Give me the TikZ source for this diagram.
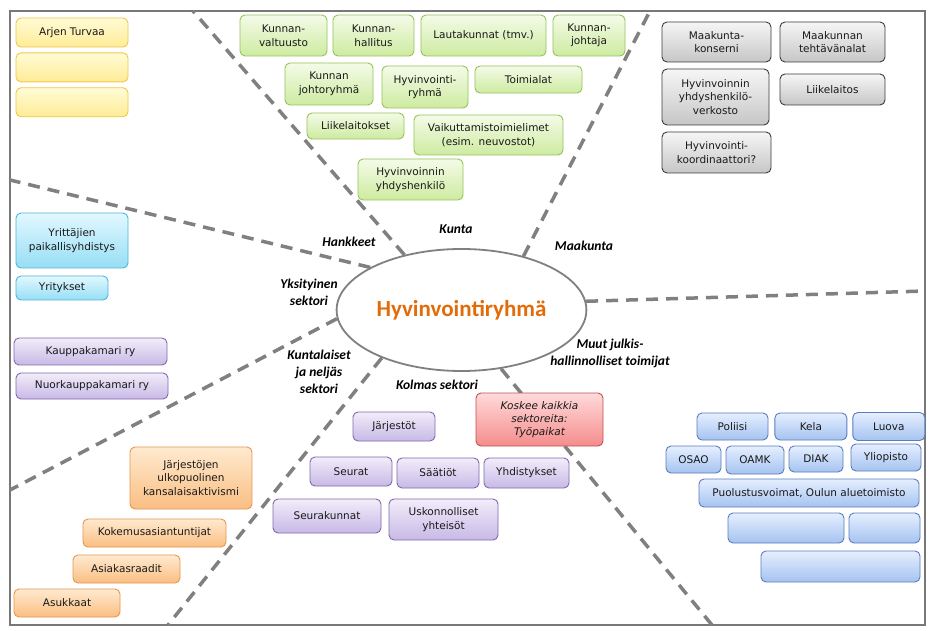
\documentclass[tikz,border=0pt]{standalone}
\usepackage{fontspec}
\newfontfamily\boxfont{DejaVu Sans}
\newfontfamily\labelfont{Carlito}
\usepackage{tikz}
\usetikzlibrary{
	positioning,
	shapes.geometric
}

\definecolor{keltY}{RGB}{255,251,214}
\definecolor{keltA}{RGB}{255,236,150}
\definecolor{keltR}{RGB}{240,200,70}
\definecolor{vihrY}{RGB}{244,251,232}
\definecolor{vihrA}{RGB}{205,235,160}
\definecolor{vihrR}{RGB}{150,195,90}
\definecolor{harmY}{RGB}{246,246,246}
\definecolor{harmA}{RGB}{198,198,198}
\definecolor{harmR}{RGB}{60,60,60}
\definecolor{syanY}{RGB}{226,248,255}
\definecolor{syanA}{RGB}{150,222,245}
\definecolor{syanR}{RGB}{80,180,215}
\definecolor{violY}{RGB}{242,237,250}
\definecolor{violA}{RGB}{200,185,230}
\definecolor{violR}{RGB}{130,105,175}
\definecolor{orY}{RGB}{255,234,208}
\definecolor{orA}{RGB}{250,190,130}
\definecolor{orR}{RGB}{230,150,80}
\definecolor{punY}{RGB}{255,218,218}
\definecolor{punA}{RGB}{245,140,140}
\definecolor{punR}{RGB}{190,80,80}
\definecolor{sinY}{RGB}{230,239,255}
\definecolor{sinA}{RGB}{165,195,240}
\definecolor{sinR}{RGB}{90,125,190}
\definecolor{rajaC}{RGB}{128,128,128}
\definecolor{kehys}{RGB}{120,120,120}
\definecolor{otsikko}{RGB}{227,108,10}

\begin{document}
\begin{tikzpicture}[
			x=1pt, y=-1pt,
			kasti/.style={draw, rounded corners=5pt, align=center, inner sep=2pt, line width=0.9pt,
				font=\boxfont\fontsize{10.5}{13.5}\selectfont, text=black!90},
			keltainen/.style={kasti, draw=keltR, top color=keltY, bottom color=keltA},
			vihrea/.style={kasti, draw=vihrR, top color=vihrY, bottom color=vihrA},
			harmaa/.style={kasti, draw=harmR, top color=harmY, bottom color=harmA},
			syaani/.style={kasti, draw=syanR, top color=syanY, bottom color=syanA},
			violetti/.style={kasti, draw=violR, top color=violY, bottom color=violA},
			oranssi/.style={kasti, draw=orR, top color=orY, bottom color=orA},
			punainen/.style={kasti, draw=punR, top color=punY, bottom color=punA},
			sininen/.style={kasti, draw=sinR, top color=sinY, bottom color=sinA},
			sektori/.style={font=\labelfont\bfseries\itshape\fontsize{13.5}{17}\selectfont, align=center},
			raja/.style={draw=rajaC, line width=3.5pt, dash pattern=on 12pt off 8pt}
		]

		\useasboundingbox (0,0) rectangle (938,631);
		\fill[white] (0,0) rectangle (938,631);
		\draw[kehys, line width=2.5pt] (10,11) rectangle (925,625);

		% keskus
		\node[draw=rajaC, line width=1.8pt, ellipse, fill=white, minimum width=245pt, minimum height=122pt,
			font=\labelfont\bfseries\fontsize{23}{26}\selectfont, text=otsikko] (hub) at (461.5,310) {Hyvinvointiryhmä};

		% sektorien rajat
		\coordinate (r1) at (193,11);
		\coordinate (r2) at (650,11);
		\coordinate (r3) at (10,180);
		\coordinate (r4) at (925,291);
		\coordinate (r5) at (10,490);
		\coordinate (r6) at (168,625);
		\coordinate (r7) at (712,625);
		\draw[raja] (hub.136) -- (r1);
		\draw[raja] (hub.41) -- (r2);
		\draw[raja] (hub.155) -- (r3);
		\draw[raja] (hub.4.5) -- (r4);
		\draw[raja] (hub.184) -- (r5);
		\draw[raja] (hub.211) -- (r6);
		\draw[raja] (hub.304) -- (r7);

		% hankkeet
		\node[keltainen, minimum width=112pt, minimum height=29pt] (arjen) at (72,32.5) {Arjen Turvaa};
		\node[keltainen, minimum width=112pt, minimum height=29pt, below=5pt of arjen] (kelt2) {};
		\node[keltainen, minimum width=112pt, minimum height=29pt, below=5pt of kelt2] (kelt3) {};

		% kunta
		\node[vihrea, minimum width=87pt, minimum height=41pt] (valtuusto) at (283.5,35.5) {Kunnan-\\valtuusto};
		\node[vihrea, minimum width=81pt, minimum height=41pt] (hallitus) at (373.5,35.5) {Kunnan-\\hallitus};
		\node[vihrea, minimum width=125pt, minimum height=41pt] (lautakunnat) at (483.5,35.5) {Lautakunnat (tmv.)};
		\node[vihrea, minimum width=72pt, minimum height=41pt] (johtaja) at (589,35.5) {Kunnan-\\johtaja};
		\node[vihrea, minimum width=88pt, minimum height=42pt] (johtoryhma) at (329,84) {Kunnan\\johtoryhmä};
		\node[vihrea, minimum width=86pt, minimum height=42pt] (hvryhma) at (425,87) {Hyvinvointi-\\ryhmä};
		\node[vihrea, minimum width=107pt, minimum height=27pt] (toimialat) at (528.5,79.5) {Toimialat};
		\node[vihrea, minimum width=97pt, minimum height=26pt] (liikelaitokset) at (355.5,126) {Liikelaitokset};
		\node[vihrea, minimum width=149pt, minimum height=40pt] (vaikuttamis) at (488.5,135) {Vaikuttamistoimielimet\\(esim. neuvostot)};
		\node[vihrea, minimum width=105pt, minimum height=41pt] (yhdyshlo) at (410.5,179.5) {Hyvinvoinnin\\yhdyshenkilö};

		% maakunta
		\node[harmaa, minimum width=109pt, minimum height=40pt] (konserni) at (716.5,42) {Maakunta-\\konserni};
		\node[harmaa, minimum width=105pt, minimum height=40pt] (tehtavat) at (832.5,42) {Maakunnan\\tehtävänalat};
		\node[harmaa, minimum width=107pt, minimum height=56pt] (verkosto) at (715.5,97) {Hyvinvoinnin\\yhdyshenkilö-\\verkosto};
		\node[harmaa, minimum width=105pt, minimum height=31pt] (liikelaitos) at (832.5,89.5) {Liikelaitos};
		\node[harmaa, minimum width=109pt, minimum height=41pt] (koordinaattori) at (716.5,152.5) {Hyvinvointi-\\koordinaattori?};

		% yksityinen sektori
		\node[syaani, minimum width=112pt, minimum height=55pt] (yrittajat) at (72,240.5) {Yrittäjien\\paikallisyhdistys};
		\node[syaani, minimum width=92pt, minimum height=24pt] (yritykset) at (62,288) {Yritykset};
		\node[violetti, minimum width=153pt, minimum height=27pt] (kauppakamari) at (90.5,351.5) {Kauppakamari ry};
		\node[violetti, minimum width=152pt, minimum height=26pt] (nuorkauppa) at (92,386) {Nuorkauppakamari ry};

		% kuntalaiset
		\node[oranssi, minimum width=122pt, minimum height=62pt] (aktivismi) at (191,478) {Järjestöjen\\ulkopuolinen\\kansalaisaktivismi};
		\node[oranssi, minimum width=143pt, minimum height=28pt] (kokemus) at (154.5,533) {Kokemusasiantuntijat};
		\node[oranssi, minimum width=107pt, minimum height=28pt] (raadit) at (126.5,569) {Asiakasraadit};
		\node[oranssi, minimum width=106pt, minimum height=28pt] (asukkaat) at (67,603) {Asukkaat};

		% kolmas sektori
		\node[violetti, minimum width=82pt, minimum height=29pt] (jarjestot) at (394,426.5) {Järjestöt};
		\node[violetti, minimum width=82pt, minimum height=29pt] (seurat) at (351,471.5) {Seurat};
		\node[violetti, minimum width=82pt, minimum height=30pt] (saatiot) at (438,473) {Säätiöt};
		\node[violetti, minimum width=85pt, minimum height=30pt] (yhdistykset) at (526.5,473) {Yhdistykset};
		\node[violetti, minimum width=108pt, minimum height=34pt] (seurakunnat) at (327,516) {Seurakunnat};
		\node[violetti, minimum width=109pt, minimum height=41pt] (uskonnolliset) at (443.5,519.5) {Uskonnolliset\\yhteisöt};
		\node[punainen, minimum width=127pt, minimum height=53pt, font=\boxfont\itshape\fontsize{10.5}{13}\selectfont] (tyopaikat) at (539.5,419.5) {Koskee kaikkia\\sektoreita:\\Työpaikat};

		% muut julkishallinnolliset
		\node[sininen, minimum width=71pt, minimum height=27pt] (poliisi) at (732.5,426.5) {Poliisi};
		\node[sininen, minimum width=72pt, minimum height=27pt, right=6pt of poliisi] (kela) {Kela};
		\node[sininen, minimum width=72pt, minimum height=28pt, right=5pt of kela] (luova) {Luova};
		\node[sininen, minimum width=55pt, minimum height=27pt] (osao) at (693.5,459.5) {OSAO};
		\node[sininen, minimum width=58pt, minimum height=28pt] (oamk) at (755,460) {OAMK};
		\node[sininen, minimum width=54pt, minimum height=26pt] (diak) at (816,459) {DIAK};
		\node[sininen, minimum width=70pt, minimum height=27pt] (yliopisto) at (886,457.5) {Yliopisto};
		\node[sininen, minimum width=220pt, minimum height=28pt] (puolustus) at (809,493) {Puolustusvoimat, Oulun aluetoimisto};
		\node[sininen, minimum width=116pt, minimum height=30pt] (sin1) at (786,528) {};
		\node[sininen, minimum width=71pt, minimum height=30pt] (sin2) at (884.5,528) {};
		\node[sininen, minimum width=159pt, minimum height=31pt] (sin3) at (840.5,566.5) {};

		% sektorien nimet
		\node[sektori] (kunta) at (456,229) {Kunta};
		\node[sektori] (hankkeet) at (349,242) {Hankkeet};
		\node[sektori] (maakunta) at (584,246) {Maakunta};
		\node[sektori] (yksityinen) at (309,292) {Yksityinen\\sektori};
		\node[sektori] (neljas) at (319,372) {Kuntalaiset\\ja neljäs\\sektori};
		\node[sektori] (kolmas) at (437,385) {Kolmas sektori};
		\node[sektori] (muut) at (610,353) {Muut julkis-\\hallinnolliset toimijat};
	\end{tikzpicture}
\end{document}
